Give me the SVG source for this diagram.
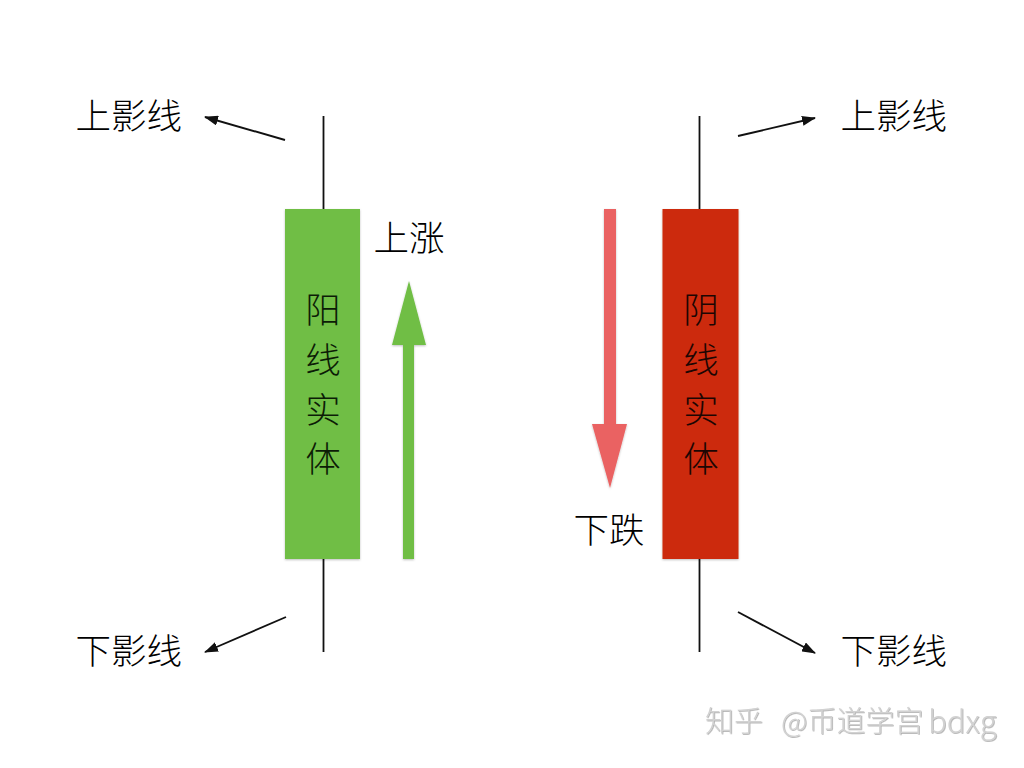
<svg xmlns="http://www.w3.org/2000/svg" width="1024" height="768" viewBox="0 0 1024 768">
<style>
text{font-family:"Noto Sans CJK SC","Noto Sans",sans-serif;font-size:35.500px;fill:#000;font-weight:300;text-anchor:start}
.m{text-anchor:middle;fill:#0c1c06}
.r{fill:#1c0603}
.l{stroke:#111;stroke-width:1.800;fill:none}
.a{stroke:#111;stroke-width:1.900;fill:none;marker-end:url(#h)}
.w{font-size:29px;fill:#d2d2d2;font-weight:300}
</style>
<defs>
<marker id="h" markerUnits="userSpaceOnUse" markerWidth="14" markerHeight="10" refX="13" refY="5" orient="auto"><path d="M0 0L14 5L0 10Z" fill="#111"/></marker>
<filter id="s" x="-20%" y="-5%" width="140%" height="110%"><feDropShadow dx="0" dy="1" stdDeviation="1.200" flood-color="#000" flood-opacity=".25"/></filter>
<filter id="ws" x="-5%" y="-20%" width="110%" height="140%"><feDropShadow dx="0.800" dy="0.800" stdDeviation="0.500" flood-color="#888" flood-opacity=".7"/></filter>
</defs>
<rect width="1024" height="768" fill="#fff"/>
<g id="connectors">
<path class="l" d="M323.500 116V209M323.500 559V652M699.500 116V209M699.500 559V652"/>
<path class="a" d="M285 140L205 117"/>
<path class="a" d="M286 617L205 652"/>
<path class="a" d="M738 136L815 118"/>
<path class="a" d="M738 612L815 653"/>
</g>
<g id="green-body"><rect x="285" y="209" width="75" height="350" fill="#6fbe44" filter="url(#s)"/>
<text class="m" x="323" y="323">阳</text><text class="m" x="323" y="373">线</text><text class="m" x="323" y="423">实</text><text class="m" x="323" y="472">体</text></g>
<g id="red-body"><rect x="662.500" y="209" width="76" height="350" fill="#cc2a0c" filter="url(#s)"/>
<text class="m r" x="701" y="323">阴</text><text class="m r" x="701" y="373">线</text><text class="m r" x="701" y="423">实</text><text class="m r" x="701" y="472">体</text></g>
<g id="up-arrow"><path d="M403 559V345H392L409 281L426 345H414V559Z" fill="#6fbe44" filter="url(#s)"/></g>
<g id="down-arrow"><path d="M604 209H616V424H627L610 488L592 424H604Z" fill="#ea6262" filter="url(#s)"/></g>
<g id="labels">
<text x="75.500" y="129">上影线</text><text x="840.500" y="129">上影线</text>
<text x="75.500" y="664">下影线</text><text x="840.500" y="664">下影线</text>
<text x="373.500" y="251">上涨</text><text x="573.500" y="543">下跌</text>
</g>
<g id="watermark" filter="url(#ws)"><text class="w" x="705" y="732">知乎</text><text class="w" x="781" y="732">@币道学宫</text><text class="w" x="928" y="733" style="font-size:31px">bdxg</text></g>
</svg>
